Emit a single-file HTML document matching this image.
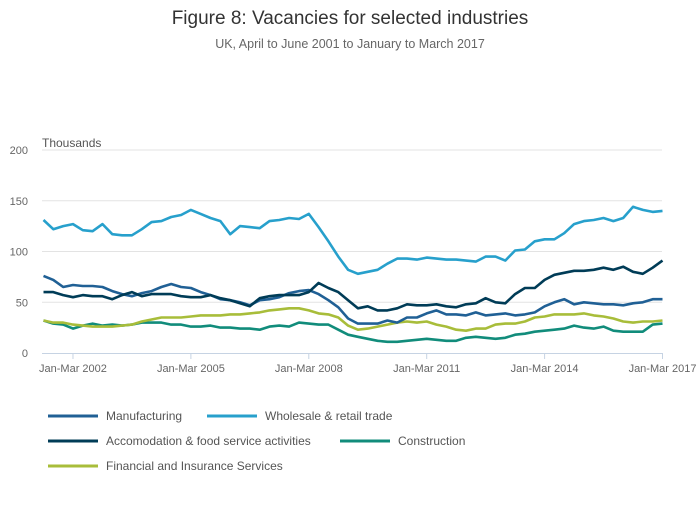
<!DOCTYPE html>
<html><head><meta charset="utf-8"><style>
body{margin:0;background:#fff;font-family:"Liberation Sans",sans-serif;}
svg text{font-family:"Liberation Sans",sans-serif;}
</style></head><body>
<svg width="700" height="502" xmlns="http://www.w3.org/2000/svg">
<text x="350" y="24" text-anchor="middle" font-size="19" fill="#333">Figure 8: Vacancies for selected industries</text>
<text x="350" y="48" text-anchor="middle" font-size="12.5" fill="#666">UK, April to June 2001 to January to March 2017</text>
<text x="42" y="147" font-size="12" fill="#555">Thousands</text>
<g id="grid"></g><g id="series"></g><g id="legend"></g>
</svg>
<script>
const yTicks=[0,50,100,150,200];
const xTickLabels=["Jan-Mar 2002","Jan-Mar 2005","Jan-Mar 2008","Jan-Mar 2011","Jan-Mar 2014","Jan-Mar 2017"];
const xTickIndex=[3,15,27,39,51,63];
const seriesNames=["Manufacturing","Wholesale & retail trade","Accomodation & food service activities","Construction","Financial and Insurance Services"];
const manufacturing=[76,72,65,67,66,66,65,61,58,56,59,61,65,68,65,64,60,57,53,52,50,47,52,53,55,59,61,62,58,52,45,34,29,29,29,32,30,35,35,39,42,38,38,37,40,37,38,39,37,38,40,46,50,53,48,50,49,48,48,47,49,50,53,53];
const wholesale=[131,122,125,127,121,120,127,117,116,116,122,129,130,134,136,141,137,133,130,117,125,124,123,130,131,133,132,137,124,110,95,82,78,80,82,88,93,93,92,94,93,92,92,91,90,95,95,91,101,102,110,112,112,118,127,130,131,133,130,133,144,141,139,140];
const accommodation=[60,60,57,55,57,56,56,53,57,60,56,58,58,58,56,55,55,57,54,52,49,46,54,56,57,57,57,60,69,64,60,52,44,46,42,42,44,48,47,47,48,46,45,48,49,54,50,49,58,64,64,72,77,79,81,81,82,84,82,85,80,78,84,91];
const construction=[32,29,28,24,27,29,27,28,27,28,30,30,30,28,28,26,26,27,25,25,24,24,23,26,27,26,30,29,28,28,23,18,16,14,12,11,11,12,13,14,13,12,12,15,16,15,14,15,18,19,21,22,23,24,27,25,24,26,22,21,21,21,28,29];
const finance=[32,30,30,28,27,26,26,26,27,28,31,33,35,35,35,36,37,37,37,38,38,39,40,42,43,44,44,42,39,38,35,27,23,24,26,28,30,31,30,31,28,26,23,22,24,24,28,29,29,31,35,36,38,38,38,39,37,36,34,31,30,31,31,32];
const colors=["#206095","#27a0cc","#003c57","#118c7b","#a8bd3a"];
const allSeries=[manufacturing,wholesale,accommodation,construction,finance];
const NS="http://www.w3.org/2000/svg";
const x0=43.5,x1=662.5,nPts=64,y0=353,yMax=200,yTop=150;
const xs=i=>x0+(x1-x0)*i/(nPts-1);
const ys=v=>y0-(y0-yTop)*v/yMax;
function mk(t,a,p){const e=document.createElementNS(NS,t);for(const k in a)e.setAttribute(k,a[k]);p.appendChild(e);return e;}
const grid=document.getElementById('grid');
yTicks.forEach(v=>{
 if(v>0){const l=mk('line',{x1:42,x2:662,y1:ys(v),y2:ys(v),stroke:'#e3e3e3','stroke-width':1},grid);
 
 }
 const t=mk('text',{x:28,y:ys(v)+4,'text-anchor':'end','font-size':11,fill:'#666'},grid);t.textContent=v;
 
 
});
const ax=mk('line',{x1:42,x2:663,y1:353.5,y2:353.5,stroke:'#c6d3e3','stroke-width':1},grid);


xTickLabels.forEach((lab,k)=>{
 const x=xs(xTickIndex[k]);
 const tk=mk('line',{x1:x,x2:x,y1:353,y2:359,stroke:'#c6d3e3'},grid);
 
 
 const t=mk('text',{x:x,y:372,'text-anchor':'middle','font-size':11,fill:'#666'},grid);t.textContent=lab;
 
 
});
const sg=document.getElementById('series');
[3,4,0,2,1].forEach(si=>{
 const d=allSeries[si].map((v,i)=>(i?'L':'M')+xs(i).toFixed(1)+','+ys(v).toFixed(1)).join('');
 const p=mk('path',{d:d,fill:'none',stroke:colors[si],'stroke-width':2.6,'stroke-linejoin':'round'},sg);
 
 
});
const lg=document.getElementById('legend');
const legPos=[[48,416],[207,416],[48,441],[340,441],[48,466]];
seriesNames.forEach((n,i)=>{
 const [x,y]=legPos[i];
 const g=mk('g',{},lg);
 
 
 mk('line',{x1:x,x2:x+50,y1:y,y2:y,stroke:colors[i],'stroke-width':3},g);
 const t=mk('text',{x:x+58,y:y+4,'font-size':12,fill:'#555'},g);t.textContent=n;
});
</script>
</body></html>
